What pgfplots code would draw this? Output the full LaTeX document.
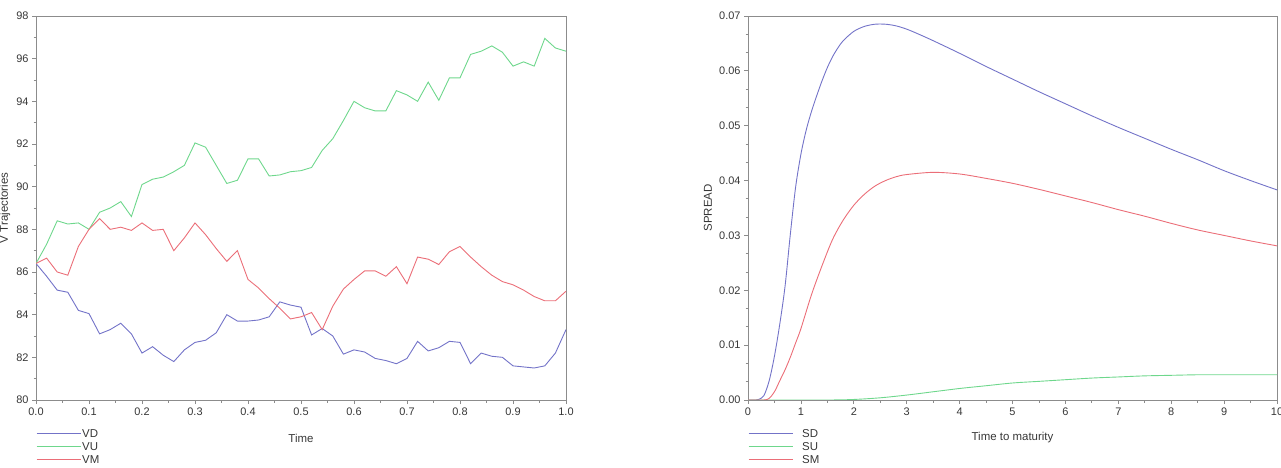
\documentclass[border=0pt]{standalone}
\usepackage{pgfplots}
\usepackage{pgfplotstable}
\pgfplotsset{compat=1.18}
\usepackage{fontspec}
\setmainfont{Liberation Sans}
\definecolor{cD}{RGB}{115,115,200}
\definecolor{cU}{RGB}{110,215,140}
\definecolor{cM}{RGB}{235,110,120}
\definecolor{axgray}{RGB}{140,140,140}
\definecolor{txt}{RGB}{55,55,55}

\pgfplotstableread{
t VD VU VM
0.00 86.40 86.40 86.40
0.02 85.80 87.30 86.65
0.04 85.15 88.40 86.00
0.06 85.05 88.25 85.85
0.08 84.20 88.30 87.20
0.10 84.05 88.00 88.00
0.12 83.10 88.80 88.50
0.14 83.30 89.00 88.00
0.16 83.60 89.30 88.10
0.18 83.10 88.60 87.95
0.20 82.20 90.10 88.30
0.22 82.50 90.35 87.95
0.24 82.10 90.45 88.00
0.26 81.80 90.70 87.00
0.28 82.35 91.00 87.60
0.30 82.70 92.05 88.30
0.32 82.80 91.85 87.75
0.34 83.15 91.00 87.10
0.36 84.00 90.15 86.50
0.38 83.70 90.30 87.00
0.40 83.70 91.30 85.65
0.42 83.75 91.30 85.25
0.44 83.90 90.50 84.75
0.46 84.60 90.55 84.30
0.48 84.45 90.70 83.80
0.50 84.35 90.75 83.90
0.52 83.05 90.90 84.10
0.54 83.35 91.70 83.30
0.56 83.00 92.25 84.40
0.58 82.15 93.10 85.20
0.60 82.35 94.00 85.65
0.62 82.25 93.70 86.05
0.64 81.95 93.55 86.05
0.66 81.85 93.55 85.80
0.68 81.70 94.50 86.25
0.70 81.95 94.30 85.45
0.72 82.75 94.00 86.70
0.74 82.30 94.90 86.60
0.76 82.45 94.05 86.35
0.78 82.75 95.10 86.95
0.80 82.70 95.10 87.20
0.82 81.70 96.20 86.70
0.84 82.20 96.35 86.25
0.86 82.05 96.60 85.85
0.88 82.00 96.30 85.55
0.90 81.60 95.65 85.40
0.92 81.55 95.85 85.15
0.94 81.50 95.65 84.85
0.96 81.60 96.95 84.65
0.98 82.20 96.50 84.65
1.00 83.30 96.35 85.10
}\trajtable

\pgfplotstableread{
T SD
0.0 0.0000
0.15 0.0000
0.2 0.0001
0.3 0.0008
0.4 0.0035
0.5 0.0080
0.6 0.0138
0.7 0.0207
0.8 0.0302
0.9 0.0388
1.0 0.0448
1.1 0.0492
1.2 0.0526
1.3 0.0555
1.4 0.0582
1.5 0.0606
1.6 0.0626
1.7 0.0642
1.8 0.0655
2.0 0.0672
2.2 0.0681
2.4 0.0685
2.6 0.0685
2.8 0.0682
3.0 0.0676
3.2 0.0668
3.5 0.0655
4.0 0.0632
4.5 0.0608
5.0 0.0585
5.5 0.0562
6.0 0.0540
6.5 0.0518
7.0 0.0497
7.5 0.0477
8.0 0.0457
8.5 0.0438
9.0 0.0418
9.5 0.0400
10.0 0.0383
}\sdtable

\pgfplotstableread{
T SU
0.0 0.0000
1.5 0.0000
2.0 0.0001
2.5 0.0004
3.0 0.0009
3.5 0.0015
4.0 0.0021
4.5 0.0026
5.0 0.0031
5.5 0.0034
6.0 0.0037
6.5 0.0040
7.0 0.0042
7.5 0.0044
8.0 0.0045
8.5 0.0046
9.0 0.0046
9.5 0.0046
10.0 0.0046
}\sutable

\pgfplotstableread{
T SM
0.0 0.0000
0.3 0.0000
0.4 0.0003
0.5 0.0015
0.6 0.0035
0.7 0.0055
0.8 0.0078
0.9 0.0104
1.0 0.0130
1.2 0.0192
1.4 0.0245
1.6 0.0293
1.8 0.0328
2.0 0.0355
2.2 0.0375
2.4 0.0390
2.6 0.0400
2.8 0.0407
3.0 0.0411
3.5 0.0415
4.0 0.0412
4.5 0.0404
5.0 0.0395
5.5 0.0384
6.0 0.0372
6.5 0.0360
7.0 0.0347
7.5 0.0335
8.0 0.0322
8.5 0.0310
9.0 0.0300
9.5 0.0290
10.0 0.0281
}\smtable

\pgfplotsset{
  legend image code/.code={\draw[#1] (0bp,0bp) -- (44bp,0bp);},
}
\pgfplotsset{
  myaxis/.style={
    scale only axis, width=530bp, height=384bp,
    anchor=south west,
    axis line style={axgray, line width=0.9bp},
    tick style={axgray, line width=0.8bp},
    tick align=outside, tick pos=left,
    major tick length=4bp, minor tick length=2.5bp,
    /pgf/number format/assume math mode=true,
    tick label style={font=\fontsize{11}{13}\selectfont, text=txt},
    label style={font=\fontsize{11.5}{13}\selectfont, text=txt},
    legend cell align=left,
    every axis plot/.append style={line width=0.9bp},
  }
}

\begin{document}
\begin{tikzpicture}
\useasboundingbox (0,0) rectangle (1281bp,468bp);
\begin{axis}[myaxis, at={(36bp,68bp)},
  xmin=0, xmax=1, ymin=80, ymax=98,
  xtick={0,0.1,...,1.0}, ytick={80,82,...,98},
  minor x tick num=1, minor y tick num=1,
  xticklabel style={/pgf/number format/.cd, fixed, fixed zerofill, precision=1},
  xlabel={Time}, ylabel={V Trajectories},
  xlabel style={at={(axis description cs:0.5,-0.099)}, anchor=center},
  ylabel style={at={(axis description cs:-0.0585,0.5)}, anchor=center, rotate=0},
  legend style={at={(axis description cs:0,-0.073)}, anchor=north west, draw=none, fill=none,
    font=\fontsize{11.5}{13}\selectfont, inner sep=0pt, row sep=2bp, column sep=0bp,
    nodes={inner sep=1bp, text height=8bp, text depth=1bp, text=txt}},
]
\addlegendimage{draw=cD, line width=1bp}
\addlegendentry{VD}
\addlegendimage{draw=cU, line width=1bp}
\addlegendentry{VU}
\addlegendimage{draw=cM, line width=1bp}
\addlegendentry{VM}
\addplot[draw=cD, forget plot] table[x=t, y=VD] {\trajtable};
\addplot[draw=cU, forget plot] table[x=t, y=VU] {\trajtable};
\addplot[draw=cM, forget plot] table[x=t, y=VM] {\trajtable};
\end{axis}
\begin{axis}[myaxis, at={(748bp,68bp)}, width=529bp,
  xmin=0, xmax=10, ymin=0, ymax=0.07,
  xtick={0,1,...,10}, ytick={0,0.01,0.02,0.03,0.04,0.05,0.06,0.07},
  minor x tick num=1, minor y tick num=2,
  scaled y ticks=false,
  yticklabel style={/pgf/number format/.cd, fixed, fixed zerofill, precision=2},
  xlabel={Time to maturity}, ylabel={SPREAD},
  xlabel style={at={(axis description cs:0.5,-0.099)}, anchor=center},
  ylabel style={at={(axis description cs:-0.0756,0.5)}, anchor=center, rotate=0},
  legend style={at={(axis description cs:0,-0.073)}, anchor=north west, draw=none, fill=none,
    font=\fontsize{11.5}{13}\selectfont, inner sep=0pt, row sep=2bp, column sep=0bp,
    nodes={inner sep=1bp, text height=8bp, text depth=1bp, text=txt},
    /tikz/every odd column/.style={column sep=8bp}},
]
\addlegendimage{draw=cD, line width=1bp}
\addlegendentry{SD}
\addlegendimage{draw=cU, line width=1bp}
\addlegendentry{SU}
\addlegendimage{draw=cM, line width=1bp}
\addlegendentry{SM}
\addplot[draw=cD, smooth, forget plot] table[x=T, y=SD] {\sdtable};
\addplot[draw=cU, smooth, forget plot] table[x=T, y=SU] {\sutable};
\addplot[draw=cM, smooth, forget plot] table[x=T, y=SM] {\smtable};
\end{axis}
\end{tikzpicture}
\end{document}
